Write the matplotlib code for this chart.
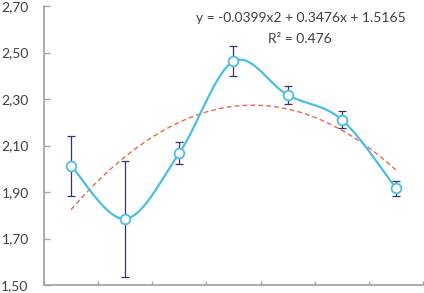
import matplotlib
matplotlib.use("Agg")
import matplotlib.pyplot as plt
import numpy as np

# values
positions = [1, 2, 3, 4, 5, 6, 7]
means = [2.013, 1.784, 2.068, 2.462, 2.317, 2.211, 1.916]
errors = [0.129, 0.249, 0.048, 0.064, 0.038, 0.036, 0.033]
trend_coef = [-0.0399, 0.3476, 1.5165]
r_squared = 0.476
y_ticks = [1.50, 1.70, 1.90, 2.10, 2.30, 2.50, 2.70]

LINE = "#4cbfe0"
ERR = "#2f3a64"
TREND = "#e8694a"
SPINE = "#a6a6a6"
TEXT = "#404040"

plt.rcParams["font.family"] = ["Lato", "DejaVu Sans"]


def smooth_curve(xs, ys, steps=40):
    # bezier smoothing with neighbour-based control points
    pts = np.column_stack([xs, ys]).astype(float)
    padded = np.vstack([pts[0], pts, pts[-1]])
    out = []
    for i in range(len(pts) - 1):
        p0, p1, p2, p3 = padded[i], padded[i + 1], padded[i + 2], padded[i + 3]
        c1 = p1 + (p2 - p0) / 6.0
        c2 = p2 - (p3 - p1) / 6.0
        t = np.linspace(0, 1, steps)[:, None]
        seg = ((1 - t) ** 3) * p1 + 3 * ((1 - t) ** 2) * t * c1 + 3 * (1 - t) * t ** 2 * c2 + t ** 3 * p2
        out.append(seg if i == 0 else seg[1:])
    curve = np.vstack(out)
    return curve[:, 0], curve[:, 1]


fig = plt.figure(figsize=(4.24, 2.93), dpi=100)
ax = fig.add_axes([0.1038, 0.0273, 0.8938, 0.9522])

sx, sy = smooth_curve(positions, means)
ax.plot(sx, sy, color=LINE, lw=1.6, zorder=3)

tx = np.linspace(positions[0], positions[-1], 200)
ax.plot(tx, np.polyval(trend_coef, tx), color=TREND, lw=1.0, ls=(0, (3.5, 2.2)), zorder=2)

ax.errorbar(positions, means, yerr=errors, fmt="none", ecolor=ERR, elinewidth=0.9,
            capsize=3, capthick=0.9, zorder=4)
ax.plot(positions, means, ls="none", marker="o", ms=7, mfc="white", mec=LINE, mew=1.3, zorder=5)

eq = f"y = {trend_coef[0]:.4f}x2 + {trend_coef[1]:.4f}x + {trend_coef[2]:.4f}"
ax.text(0.678, 0.958, eq, transform=ax.transAxes, ha="center", va="center", fontsize=10, color=TEXT)
ax.text(0.676, 0.882, f"R² = {r_squared:.3f}", transform=ax.transAxes, ha="center", va="center",
        fontsize=10, color=TEXT)

ax.set_xlim(0.5, 7.5)
ax.set_ylim(y_ticks[0], y_ticks[-1])
ax.set_xticks(np.arange(0.5, 7.6, 1.0))
ax.set_xticklabels([])
ax.set_yticks(y_ticks)
ax.set_yticklabels([f"{v:.2f}".replace(".", ",") for v in y_ticks])
ax.tick_params(axis="y", direction="in", length=4, width=1, color=SPINE, labelsize=10,
               labelcolor=TEXT, pad=11)
ax.tick_params(axis="x", direction="in", length=3, width=1, color=SPINE)

for side in ["top", "right"]:
    ax.spines[side].set_visible(False)
for side in ["left", "bottom"]:
    ax.spines[side].set_color(SPINE)
    ax.spines[side].set_linewidth(1.3)

fig.savefig("out.png", dpi=100)
